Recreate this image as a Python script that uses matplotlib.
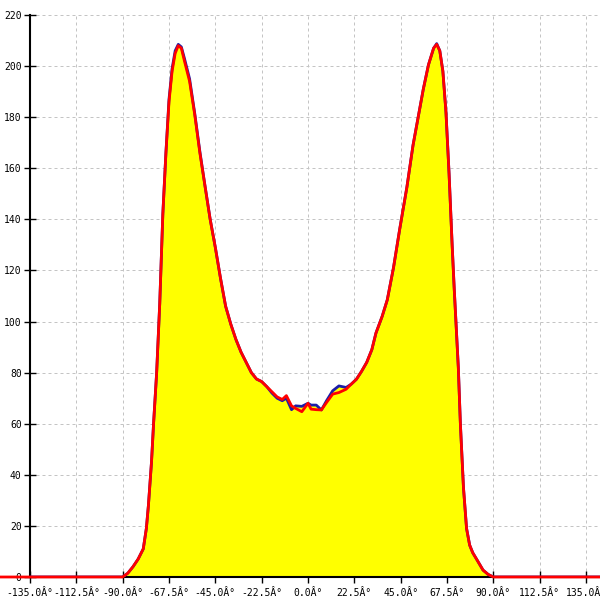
import matplotlib
matplotlib.use("Agg")
import matplotlib.pyplot as plt
import numpy as np

# angle (degrees) and counts
angles = [-180, -135, -90, -87.5, -85, -82.5, -80, -78.5, -77.5, -76, -75, -73.5, -72,
          -70.5, -69, -67.5, -66, -64.5, -63, -61.5, -60, -57.5, -55, -52.5, -50,
          -47.5, -45, -42.5, -40, -37.5, -35, -32.5, -30, -27.5, -25, -22.5, -20,
          -17.5, -15, -12.5, -10.5, -8, -6, -3, 0, 1.5, 4, 6.5, 9, 12, 15, 18.5,
          21, 23.5, 26, 28.5, 31, 33, 36, 38.5, 41.5, 44.5, 48, 51, 53.5, 56, 58.5,
          61, 62.5, 64, 65.5, 67, 68.5, 70, 71, 72, 73, 74, 75.5, 77, 78.5, 80, 82,
          85, 87.5, 90, 135, 180]
blue_counts = [0, 0, 0, 1.5, 4, 7, 11, 19, 28, 45, 60, 80, 107,
               142, 166, 187, 199, 206, 208.5, 207.5, 203, 195, 181.5, 166.5, 153,
               140, 129, 117, 106, 99, 93, 88, 84, 80, 77.5, 76.5, 74.5,
               72, 70, 69, 70, 65.5, 67, 66.8, 68, 67.3, 67.3, 65.4, 69, 72.9, 74.8, 74.2,
               75.5, 77.4, 80.5, 84, 89, 95.5, 102, 108.5, 121, 136, 152.5, 169, 180, 191, 200.5,
               207, 208.8, 206, 198, 182, 158, 130, 113, 97.5, 82, 60, 35, 19, 12.5, 9.5, 6.8,
               2.7, 1, 0, 0, 0]
red_counts = [0, 0, 0, 1.5, 4, 7, 11, 19, 28, 45, 60, 80, 107,
              142, 166, 186, 198, 205, 208, 207, 202, 194, 181, 166, 153,
              140, 129, 117, 106, 99, 93, 88, 84, 80, 77.5, 76.5, 74.5,
              72.5, 70.5, 69.5, 71, 67, 66, 64.7, 68, 65.7, 65.5, 65.4, 68.3, 71.6, 72.2, 73.5,
              75.5, 77.4, 80.5, 84, 89, 95.5, 102, 108.5, 121, 136, 152.5, 169, 180, 191, 200.5,
              207, 208.5, 206, 198, 182, 158, 130, 113, 97.5, 82, 60, 35, 19, 12.5, 9.5, 6.8,
              2.7, 1, 0, 0, 0]
x_ticks = [-135.0, -112.5, -90.0, -67.5, -45.0, -22.5, 0.0, 22.5, 45.0, 67.5, 90.0, 112.5, 135.0]
x_tick_labels = [f"{v:.1f}Â°" for v in x_ticks]
y_ticks = list(range(0, 221, 20))
y_tick_labels = [str(v) for v in y_ticks]

fig = plt.figure(figsize=(6, 6), dpi=100)
ax = fig.add_axes([30 / 600, 23 / 600, 570 / 600, 562 / 600])
ax.set_xlim(-135, 141.8)
ax.set_ylim(0, 220)

ax.fill_between(angles, blue_counts, 0, color="#ffff00", linewidth=0, zorder=1)
ax.plot(angles, blue_counts, color="#1c1ca8", linewidth=2, zorder=3)
ax.plot(angles, red_counts, color="#ff0000", linewidth=2, zorder=4, clip_on=False)

for s in ["top", "right"]:
    ax.spines[s].set_visible(False)
for s in ["left", "bottom"]:
    ax.spines[s].set_color("black")
    ax.spines[s].set_linewidth(1.5)
    ax.spines[s].set_zorder(2)

ax.set_xticks(x_ticks)
ax.set_xticklabels(x_tick_labels)
ax.set_yticks(y_ticks)
ax.set_yticklabels(y_tick_labels)
ax.tick_params(axis="both", direction="inout", length=8, width=1, color="black",
               labelsize=7, labelcolor="black")
ax.tick_params(axis="x", pad=4)
ax.tick_params(axis="y", pad=2)
for lab in ax.get_xticklabels() + ax.get_yticklabels():
    lab.set_family("DejaVu Sans Mono")

ax.grid(True, color="#c4c4c4", linestyle=(0, (3, 3)), linewidth=0.72, zorder=0)
ax.set_axisbelow(True)

fig.savefig("out.png", dpi=100)
